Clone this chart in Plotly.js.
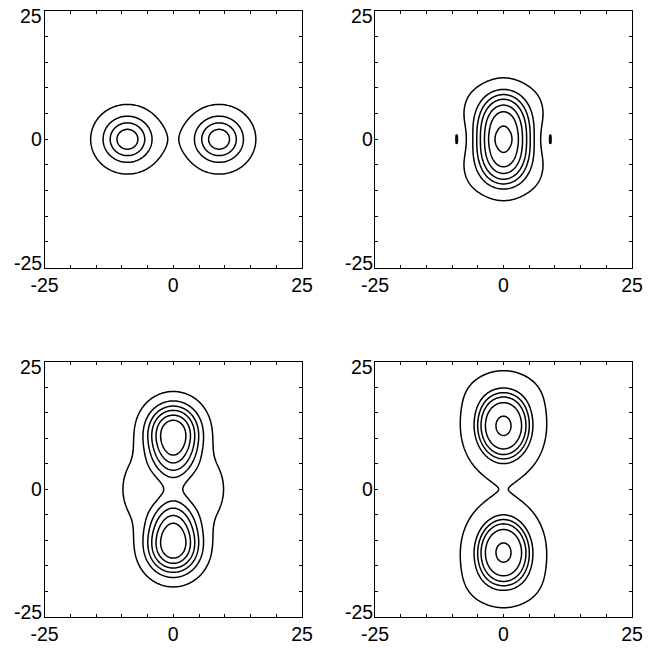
<!DOCTYPE html>
<html>
<head>
<meta charset="utf-8">
<script src="https://cdn.plot.ly/plotly-3.0.1.min.js"></script>
<style>html,body{margin:0;padding:0;background:#fff;}</style>
</head>
<body>
<div id="chart" style="width:653px;height:648px;"></div>
<script>
// ---------- tick positions and labels ----------
const tickVals = [-25, -20, -15, -10, -5, 0, 5, 10, 15, 20, 25];
const xTickText = ['-25', '', '', '', '', '0', '', '', '', '', '25'];
const yLabelVals = [-25, 0, 25];
const yLabelText = ['-25', '0', '25'];

// ---------- field components (centre, widths, height, shape power) ----------
// Panel 1: two separate lumps on the x axis
const p1CentreX = [-8.9, 8.9];
const p1CentreY = [0, 0];
const p1WidthX  = [4.2, 4.2];
const p1WidthY  = [4.0, 4.0];
const p1Height  = [1, 1];
const p1PowerX  = [2, 2];
const p1PowerY  = [2, 2];
const p1Levels  = [0.236, 0.531, 0.728, 0.89];

// Panel 2: merged lump stretched along y, flat pedestal, dips and thin ridges at the sides
const p2CentreX = [0, 0, 0, 8, -8, 9.1, -9.1];
const p2CentreY = [0, 0, 0, 0, 0, 0, 0];
const p2WidthX  = [3.6, 1.5, 8.0, 1.0, 1.0, 0.35, 0.35];
const p2WidthY  = [6.6, 1.2, 9.5, 2.5, 2.5, 1.8, 1.8];
const p2Height  = [1, 0.12, 0.08, -0.1, -0.1, 0.12, 0.12];
const p2PowerX  = [2, 2, 6, 2, 2, 2, 2];
const p2PowerY  = [2.5, 2, 6, 2, 2, 2, 2];
const p2Levels  = [0.12, 0.3135, 0.4274, 0.5378, 0.675, 0.8215, 1.0455];

// Panel 3: two lumps on the y axis joined by a ridge, side bulges at y = 0
const p3CentreX = [0, 0, 0, 0, 8, -8];
const p3CentreY = [11.5, -11.5, 5, -5, 0, 0];
const p3WidthX  = [3.85, 3.85, 3.8, 3.8, 2, 2];
const p3WidthY  = [4.0, 4.0, 3.6, 3.6, 4, 4];
const p3Height  = [1, 1, 0.472, 0.472, 0.215, 0.215];
const p3PowerX  = [2, 2, 2, 2, 2, 2];
const p3PowerY  = [2, 2, 2, 2, 2, 2];
const p3Levels  = [0.16, 0.35, 0.49, 0.62, 0.765, 0.91];

// Panel 4: two separated lumps on the y axis, broadened outer corners, faint link at the centre
const p4CentreX = [0, 0, 5.5, -5.5, 5.5, -5.5, 0];
const p4CentreY = [12.4, -12.4, 19, 19, -19, -19, 0];
const p4WidthX  = [3.9, 3.9, 3, 3, 3, 3, 2.5];
const p4WidthY  = [5, 5, 3, 3, 3, 3, 4];
const p4Height  = [1, 1, 0.035, 0.035, 0.035, 0.035, 0.011];
const p4PowerX  = [2, 2, 2, 2, 2, 2, 2];
const p4PowerY  = [2, 2, 2, 2, 2, 2, 2];
const p4Levels  = [0.1, 0.3437, 0.4396, 0.5368, 0.6685, 0.9332];

// ---------- grid ----------
const gridMin = -25, gridMax = 25, gridStep = 0.2;
const grid = [];
for (let v = gridMin; v <= gridMax + 1e-9; v += gridStep) grid.push(+v.toFixed(4));

function buildField(cx, cy, wx, wy, h, px, py) {
  const z = [];
  for (let j = 0; j < grid.length; j++) {
    const row = [];
    const y = grid[j];
    for (let i = 0; i < grid.length; i++) {
      const x = grid[i];
      let s = 0;
      for (let k = 0; k < cx.length; k++) {
        const dx = Math.abs(x - cx[k]) / wx[k];
        const dy = Math.abs(y - cy[k]) / wy[k];
        s += h[k] * Math.exp(-0.5 * (Math.pow(dx, px[k]) + Math.pow(dy, py[k])));
      }
      row.push(s);
    }
    z.push(row);
  }
  return z;
}

const panels = [
  {z: buildField(p1CentreX, p1CentreY, p1WidthX, p1WidthY, p1Height, p1PowerX, p1PowerY), levels: p1Levels},
  {z: buildField(p2CentreX, p2CentreY, p2WidthX, p2WidthY, p2Height, p2PowerX, p2PowerY), levels: p2Levels},
  {z: buildField(p3CentreX, p3CentreY, p3WidthX, p3WidthY, p3Height, p3PowerX, p3PowerY), levels: p3Levels},
  {z: buildField(p4CentreX, p4CentreY, p4WidthX, p4WidthY, p4Height, p4PowerX, p4PowerY), levels: p4Levels}
];

const traces = [];
panels.forEach((p, idx) => {
  const n = idx === 0 ? '' : String(idx + 1);
  p.levels.forEach(L => {
    traces.push({
      type: 'contour',
      x: grid, y: grid, z: p.z,
      xaxis: 'x' + n, yaxis: 'y' + n,
      showscale: false,
      hoverinfo: 'skip',
      contours: {coloring: 'none', start: L, end: L, size: 1, showlabels: false},
      line: {color: '#000', width: 1.5, smoothing: 0}
    });
  });
});

// ---------- layout ----------
const W = 653, H = 648;
const colPx = [[44.5, 302], [375, 632]];
const rowPx = [[11, 267.5], [361.7, 616.7]];
const font = {family: 'Liberation Sans, Arial, Helvetica, sans-serif', size: 19.5, color: '#000'};

const layout = {
  width: W, height: H,
  margin: {l: 0, r: 0, t: 0, b: 0},
  paper_bgcolor: '#fff', plot_bgcolor: '#fff',
  showlegend: false,
  annotations: []
};

const yShift = {'25': -5, '0': 0, '-25': 5};

for (let idx = 0; idx < 4; idx++) {
  const n = idx === 0 ? '' : String(idx + 1);
  const c = colPx[idx % 2], r = rowPx[Math.floor(idx / 2)];
  const common = {
    range: [-25, 25], showline: true, linecolor: '#000', linewidth: 1,
    mirror: 'ticks', ticks: 'inside', ticklen: 3, tickwidth: 1, tickcolor: '#000',
    tickmode: 'array', tickvals: tickVals, showgrid: false, zeroline: false,
    fixedrange: true, tickfont: font
  };
  layout['xaxis' + n] = Object.assign({}, common, {
    domain: [c[0] / W, c[1] / W], anchor: 'y' + n,
    ticktext: xTickText
  });
  layout['yaxis' + n] = Object.assign({}, common, {
    domain: [1 - r[1] / H, 1 - r[0] / H], anchor: 'x' + n,
    showticklabels: false
  });
  yLabelVals.forEach((v, k) => {
    layout.annotations.push({
      xref: 'x' + n + ' domain', yref: 'y' + n,
      x: 0, y: v, text: yLabelText[k], showarrow: false,
      xanchor: 'right', yanchor: 'middle', xshift: 0,
      yshift: yShift[yLabelText[k]], font: font
    });
  });
}

Plotly.newPlot('chart', traces, layout, {staticPlot: true, displayModeBar: false});
</script>
</body>
</html>
